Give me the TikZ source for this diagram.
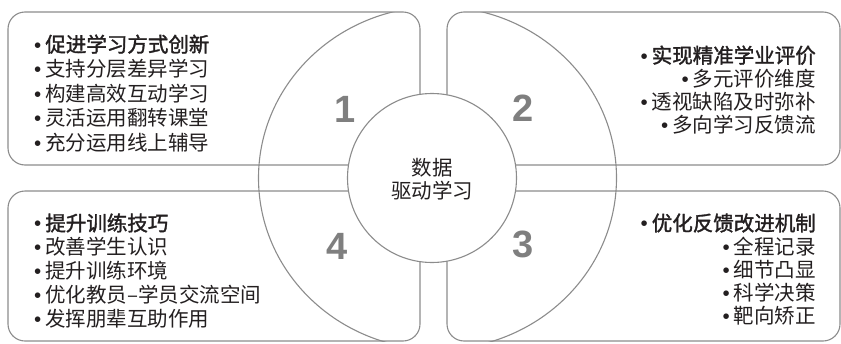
\documentclass[tikz,border=0pt]{standalone}
\usepackage{fontspec}
\setmainfont{Noto Sans CJK SC}
\newfontfamily\headfont[FakeBold=1.6]{Noto Sans CJK SC}
\newfontfamily\bulfont{Liberation Sans}
\newfontfamily\numfont{Liberation Sans}
\definecolor{edge}{HTML}{8C8C8C}
\definecolor{ink}{HTML}{231F20}
\definecolor{numgray}{HTML}{7F7F7F}
\newcommand\bul{{\bulfont •}\hspace{4pt}}
\tikzset{
  panel/.style={draw=edge, line width=1.1pt, fill=white, rounded corners=17pt},
  ring/.style={draw=edge, line width=1.1pt},
  item/.style={inner sep=0pt, text=ink, font=\fontsize{20.5}{24}\selectfont},
  head/.style={inner sep=0pt, text=ink, font=\headfont\fontsize{20.5}{24}\selectfont},
  num/.style={inner sep=0pt, text=numgray, font=\numfont\bfseries\fontsize{38}{40}\selectfont},
}
\begin{document}
\begin{tikzpicture}[x=1pt,y=-1pt]
\useasboundingbox (0,0) rectangle (841,343);
% panels
\draw[panel] (8,12) rectangle (420,165);
\draw[panel] (447,12) rectangle (840,165);
\draw[panel] (8,191) rectangle (420,341);
\draw[panel] (447,191) rectangle (840,341);
% large ring
\begin{scope}
  \clip (8,12) rectangle (840,341);
  \draw[ring] (437.5,178) ellipse [x radius=179pt, y radius=171.5pt];
\end{scope}
% hub
\node[ring, fill=white, circle, minimum size=169pt, inner sep=0pt] (hub) at (432,178) {};
\node[item, anchor=base] (hubA) at (432,175.3) {数据};
\node[item, anchor=base] (hubB) at (432,198.8) {驱动学习};
% numbers
\node[num, anchor=base] (n1) at (345,122) {1};
\node[num, anchor=base] (n2) at (523,121) {2};
\node[num, anchor=base] (n3) at (523,257) {3};
\node[num, anchor=base] (n4) at (337,259) {4};
% panel 1
\node[head, anchor=base west] (a1) at (34,52) {\bul 促进学习方式创新};
\node[item, anchor=base west] (a2) at (34,76.5) {\bul 支持分层差异学习};
\node[item, anchor=base west] (a3) at (34,101) {\bul 构建高效互动学习};
\node[item, anchor=base west] (a4) at (34,125.5) {\bul 灵活运用翻转课堂};
\node[item, anchor=base west] (a5) at (34,150) {\bul 充分运用线上辅导};
% panel 2
\node[head, anchor=base east] (b1) at (816,63) {\bul 实现精准学业评价};
\node[item, anchor=base east] (b2) at (816,86.3) {\bul 多元评价维度};
\node[item, anchor=base east] (b3) at (816,109.6) {\bul 透视缺陷及时弥补};
\node[item, anchor=base east] (b4) at (816,132.9) {\bul 多向学习反馈流};
% panel 3
\node[head, anchor=base east] (c1) at (816,230.8) {\bul 优化反馈改进机制};
\node[item, anchor=base east] (c2) at (816,254) {\bul 全程记录};
\node[item, anchor=base east] (c3) at (816,277.3) {\bul 细节凸显};
\node[item, anchor=base east] (c4) at (816,300.5) {\bul 科学决策};
\node[item, anchor=base east] (c5) at (816,323.8) {\bul 靶向矫正};
% panel 4
\node[head, anchor=base west] (d1) at (34,230.8) {\bul 提升训练技巧};
\node[item, anchor=base west] (d2) at (34,254.8) {\bul 改善学生认识};
\node[item, anchor=base west] (d3) at (34,278.8) {\bul 提升训练环境};
\node[item, anchor=base west] (d4) at (34,302.8) {\bul 优化教员–学员交流空间};
\node[item, anchor=base west] (d5) at (34,326.8) {\bul 发挥朋辈互助作用};
\end{tikzpicture}
\end{document}
